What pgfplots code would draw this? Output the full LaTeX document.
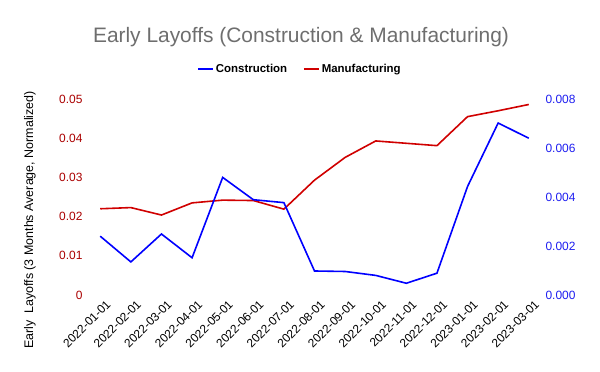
\documentclass[border=0pt]{standalone}
\usepackage{fontspec}
\setmainfont{Liberation Sans}
\usepackage{pgfplots}
\pgfplotsset{compat=1.18}
\definecolor{lred}{RGB}{208,0,0}
\definecolor{tred}{RGB}{170,0,0}
\definecolor{lblue}{RGB}{0,0,255}
\definecolor{tblue}{RGB}{30,30,240}
\definecolor{tgray}{RGB}{110,110,110}
\begin{document}
\begin{tikzpicture}[x=1bp,y=1bp]
\path[use as bounding box] (0,0) rectangle (600,371);
\node[text=tgray,font=\fontsize{21}{24}\selectfont] at (301,334) {Early Layoffs (Construction \& Manufacturing)};
\node[rotate=90,font=\fontsize{12.5}{14}\selectfont] at (30,151) {Early\ \ Layoffs (3 Months Average, Normalized)};
\begin{axis}[
  at={(88bp,76bp)}, anchor=south west, scale only axis,
  width=453bp, height=196bp,
  xmin=-0.4, xmax=14.4, ymin=0, ymax=0.05,
  scaled y ticks=false,
  axis line style={draw=none}, tick style={draw=none},
  xtick={0,...,14},
  xticklabels={2022-01-01,2022-02-01,2022-03-01,2022-04-01,2022-05-01,2022-06-01,2022-07-01,2022-08-01,2022-09-01,2022-10-01,2022-11-01,2022-12-01,2023-01-01,2023-02-01,2023-03-01},
  x tick label style={rotate=45, anchor=east, font=\fontsize{12}{14}\selectfont, yshift=-11bp, xshift=4bp},
  ytick={0,0.01,0.02,0.03,0.04,0.05},
  yticklabels={0,0.01,0.02,0.03,0.04,0.05},
  y tick label style={text=tred, font=\fontsize{12}{14}\selectfont, xshift=-2bp},
  legend style={draw=none, fill=none, at={(0.468,1.153)}, anchor=center, legend columns=2,
    font=\bfseries\fontsize{11.5}{13}\selectfont,
    /tikz/every even column/.append style={column sep=14bp}},
  legend image code/.code={\draw[#1] (0bp,0bp) -- (15bp,0bp);},
]
\addlegendimage{lblue, line width=1.6bp}
\addlegendentry{Construction}
\addplot[lred, line width=1.6bp] coordinates {
(0,0.0220) (1,0.0223) (2,0.0204) (3,0.0235) (4,0.0242) (5,0.0241) (6,0.0219)
(7,0.0293) (8,0.0351) (9,0.0393) (10,0.0387) (11,0.0381) (12,0.0455) (13,0.0470) (14,0.0486)};
\addlegendentry{Manufacturing}
\end{axis}
\begin{axis}[
  at={(88bp,76bp)}, anchor=south west, scale only axis,
  width=453bp, height=196bp,
  xmin=-0.4, xmax=14.4, ymin=0, ymax=0.008,
  scaled y ticks=false,
  axis y line*=right, axis x line=none,
  axis line style={draw=none}, tick style={draw=none},
  ytick={0,0.002,0.004,0.006,0.008},
  yticklabels={0.000,0.002,0.004,0.006,0.008},
  y tick label style={text=tblue, font=\fontsize{12}{14}\selectfont, xshift=1bp},
]
\addplot[lblue, line width=1.6bp] coordinates {
(0,0.00240) (1,0.00135) (2,0.00249) (3,0.00152) (4,0.00480) (5,0.00389) (6,0.00377)
(7,0.00098) (8,0.00096) (9,0.00080) (10,0.00048) (11,0.00089) (12,0.00443) (13,0.00702) (14,0.00640)};
\end{axis}
\end{tikzpicture}
\end{document}
